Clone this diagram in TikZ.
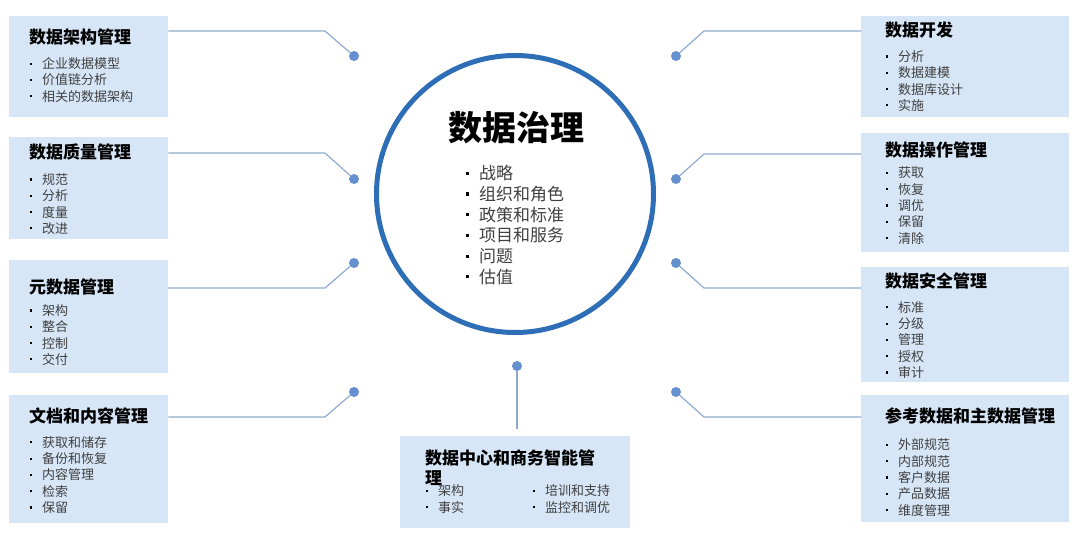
\documentclass[tikz,border=0pt]{standalone}
\usepackage{fontspec}
\setmainfont{Noto Sans CJK SC}
\usetikzlibrary{positioning}
\usepackage{xcolor}

\definecolor{boxfill}{RGB}{214,230,247}
\definecolor{linecol}{RGB}{143,170,204}
\definecolor{dotcol}{RGB}{100,145,205}
\definecolor{circlecol}{RGB}{46,110,182}
\definecolor{itemgray}{RGB}{64,64,64}

\newcommand\blt{\makebox[12pt][l]{\textcolor{black}{\raisebox{0.3em}{\rule{2.2pt}{2.2pt}}}}}
\newcommand\cblt{\makebox[13pt][l]{\textcolor{black}{\raisebox{0.28em}{\rule{3.2pt}{3.2pt}}}}}

\begin{document}
\begin{tikzpicture}[x=1pt, y=-1pt, every node/.style={
    inner sep=0pt
},
    box/.style={rectangle, fill=boxfill, anchor=north west},
    boxtitle/.style={anchor=west, align=left, font=\fontsize{17}{19.5}\selectfont\bfseries},
    boxlist/.style={anchor=west, align=left, text=itemgray, font=\fontsize{13}{16.3}\selectfont},
    link/.style={draw=linecol, line width=1.2pt},
    dot/.style={circle, fill=dotcol, minimum size=10pt}
]

\useasboundingbox (0,0) rectangle (1080,538);

    % centre
    \node (gov_circle) [circle, draw=circlecol, line width=5pt, minimum size=277pt, shift={(515, 194)}] {};

    \node (gov_title) [font=\fontsize{34}{36}\selectfont\bfseries, shift={(516, 128)}]
    {
        数据治理
    };

    \node (gov_list) [anchor=west, align=left, font=\fontsize{17}{20.7}\selectfont, text=itemgray, shift={(466, 225)}]
    {
        \cblt 战略\\ \cblt 组织和角色\\ \cblt 政策和标准\\ \cblt 项目和服务\\ \cblt 问题\\ \cblt 估值
    };



    % left side
    \node (arch_box) [box, minimum width=159pt, minimum height=101pt, shift={(9, 16)}] {};
    \node (arch_title) [boxtitle, shift={(29, 37)}]
    {
        数据架构管理
    };
    \node (arch_list) [boxlist, shift={(30, 80)}]
    {
        \blt 企业数据模型\\ \blt 价值链分析\\ \blt 相关的数据架构
    };

    \node (quality_box) [box, minimum width=159pt, minimum height=102pt, shift={(9, 137)}] {};
    \node (quality_title) [boxtitle, shift={(29, 152)}]
    {
        数据质量管理
    };
    \node (quality_list) [boxlist, shift={(30, 204)}]
    {
        \blt 规范\\ \blt 分析\\ \blt 度量\\ \blt 改进
    };

    \node (meta_box) [box, minimum width=159pt, minimum height=113pt, shift={(9, 260)}] {};
    \node (meta_title) [boxtitle, shift={(29, 287)}]
    {
        元数据管理
    };
    \node (meta_list) [boxlist, shift={(30, 335)}]
    {
        \blt 架构\\ \blt 整合\\ \blt 控制\\ \blt 交付
    };

    \node (doc_box) [box, minimum width=159pt, minimum height=128pt, shift={(9, 395)}] {};
    \node (doc_title) [boxtitle, shift={(29, 416)}]
    {
        文档和内容管理
    };
    \node (doc_list) [boxlist, shift={(30, 475)}]
    {
        \blt 获取和储存\\ \blt 备份和恢复\\ \blt 内容管理\\ \blt 检索\\ \blt 保留
    };



    % right side
    \node (dev_box) [box, minimum width=208pt, minimum height=101pt, shift={(861, 16)}] {};
    \node (dev_title) [boxtitle, shift={(885, 30)}]
    {
        数据开发
    };
    \node (dev_list) [boxlist, shift={(886, 81)}]
    {
        \blt 分析\\ \blt 数据建模\\ \blt 数据库设计\\ \blt 实施
    };

    \node (ops_box) [box, minimum width=208pt, minimum height=119pt, shift={(861, 133)}] {};
    \node (ops_title) [boxtitle, shift={(885, 150)}]
    {
        数据操作管理
    };
    \node (ops_list) [boxlist, shift={(886, 205.5)}]
    {
        \blt 获取\\ \blt 恢复\\ \blt 调优\\ \blt 保留\\ \blt 清除
    };

    \node (sec_box) [box, minimum width=208pt, minimum height=115pt, shift={(861, 267)}] {};
    \node (sec_title) [boxtitle, shift={(885, 281)}]
    {
        数据安全管理
    };
    \node (sec_list) [boxlist, shift={(886, 340)}]
    {
        \blt 标准\\ \blt 分级\\ \blt 管理\\ \blt 授权\\ \blt 审计
    };

    \node (master_box) [box, minimum width=208pt, minimum height=127pt, shift={(861, 395)}] {};
    \node (master_title) [boxtitle, shift={(885, 416)}]
    {
        参考数据和主数据管理
    };
    \node (master_list) [boxlist, shift={(886, 477.5)}]
    {
        \blt 外部规范\\ \blt 内部规范\\ \blt 客户数据\\ \blt 产品数据\\ \blt 维度管理
    };



    % bottom
    \node (bi_box) [box, minimum width=230pt, minimum height=92pt, shift={(400, 436)}] {};
    \node (bi_title) [boxtitle, shift={(425, 467.5)}]
    {
        数据中心和商务智能管\\理
    };
    \node (bi_list_a) [boxlist, shift={(426, 499)}]
    {
        \blt 架构\\ \blt 事实
    };
    \node (bi_list_b) [boxlist, shift={(533, 499)}]
    {
        \blt 培训和支持\\ \blt 监控和调优
    };



    % dots
    \node (arch_dot) [dot, shift={(354, 56)}] {};
    \node (quality_dot) [dot, shift={(354, 179)}] {};
    \node (meta_dot) [dot, shift={(354, 263)}] {};
    \node (doc_dot) [dot, shift={(354, 392)}] {};
    \node (dev_dot) [dot, shift={(676, 56)}] {};
    \node (ops_dot) [dot, shift={(676, 179)}] {};
    \node (sec_dot) [dot, shift={(676, 263)}] {};
    \node (master_dot) [dot, shift={(676, 392)}] {};
    \node (bi_dot) [dot, shift={(517, 366)}] {};

    \coordinate (arch_bend) at (325, 31);
    \coordinate (quality_bend) at (325, 153);
    \coordinate (meta_bend) at (325, 288);
    \coordinate (doc_bend) at (325, 417);
    \coordinate (dev_bend) at (704, 31);
    \coordinate (ops_bend) at (704, 154);
    \coordinate (sec_bend) at (704, 288);
    \coordinate (master_bend) at (704, 417);


    \draw[link] (arch_box.east |- arch_bend) -- (arch_bend) -- (arch_dot);
    \draw[link] (quality_box.east |- quality_bend) -- (quality_bend) -- (quality_dot);
    \draw[link] (meta_box.east |- meta_bend) -- (meta_bend) -- (meta_dot);
    \draw[link] (doc_box.east |- doc_bend) -- (doc_bend) -- (doc_dot);
    \draw[link] (dev_box.west |- dev_bend) -- (dev_bend) -- (dev_dot);
    \draw[link] (ops_box.west |- ops_bend) -- (ops_bend) -- (ops_dot);
    \draw[link] (sec_box.west |- sec_bend) -- (sec_bend) -- (sec_dot);
    \draw[link] (master_box.west |- master_bend) -- (master_bend) -- (master_dot);
    \draw[link, line width=1.7pt, shorten >=7pt] (bi_dot) -- (bi_dot |- bi_box.north);


\end{tikzpicture}
\end{document}
